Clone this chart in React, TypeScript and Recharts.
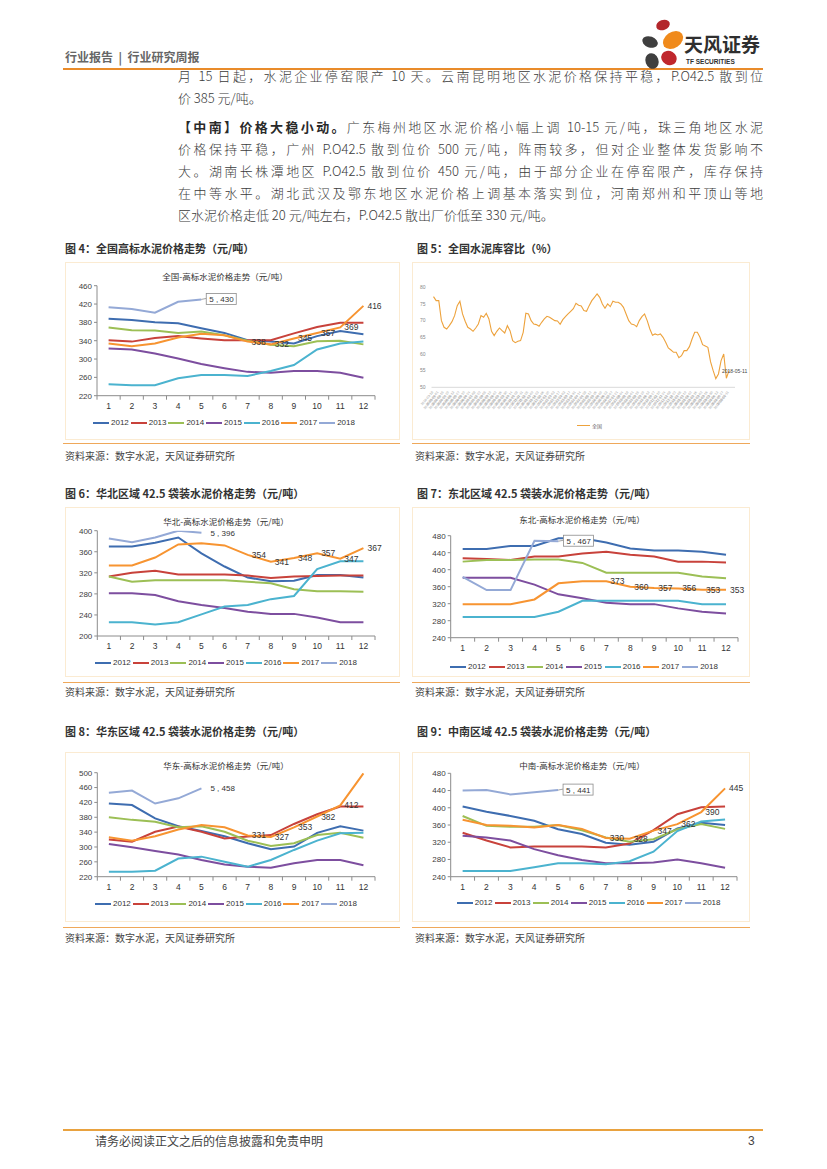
import React from "react";
import { LineChart, Line, XAxis, YAxis, LabelList } from "recharts";

const CJK = '"Noto Sans CJK SC", "Noto Sans", sans-serif';
const LATIN = '"Liberation Sans", Arial, "Noto Sans CJK SC", sans-serif';

const months = ["1", "2", "3", "4", "5", "6", "7", "8", "9", "10", "11", "12"];
const years = ["2012", "2013", "2014", "2015", "2016", "2017", "2018"];
const yearColors = ["#3E6DB0", "#C8423B", "#9CBF55", "#7D4E9F", "#4BB3CF", "#F79431", "#94A9D6"];

// 全国
const nat2012 = [388, 385, 380, 378, 367, 357, 341, 338, 334, 350, 361, 354];
const nat2013 = [341, 338, 346, 350, 345, 341, 341, 341, 356, 370, 379, 379];
const nat2014 = [369, 363, 362, 357, 360, 352, 340, 331, 328, 339, 340, 332];
const nat2015 = [323, 321, 312, 301, 289, 280, 272, 270, 274, 274, 270, 259];
const nat2016 = [245, 243, 243, 258, 265, 265, 263, 274, 287, 321, 334, 338];
const nat2017 = [334, 328, 334, 347, 355, 352, 338, 332, 345, 357, 369, 416];
const nat2018 = [413, 409, 401, 425, 430];
const natTicks = [220, 260, 300, 340, 380, 420, 460];

// 华北
const north2012 = [370, 370, 377, 387, 357, 332, 311, 304, 305, 316, 316, 311];
const north2013 = [313, 320, 324, 317, 317, 317, 315, 310, 313, 314, 315, 315];
const north2014 = [313, 303, 306, 306, 306, 306, 303, 300, 289, 285, 285, 284];
const north2015 = [281, 281, 278, 266, 259, 253, 246, 242, 242, 235, 226, 226];
const north2016 = [226, 226, 222, 226, 241, 256, 259, 270, 276, 327, 342, 342];
const north2017 = [334, 334, 349, 374, 376, 372, 354, 341, 348, 357, 347, 367];
const north2018 = [385, 378, 387, 400, 396];
const northTicks = [200, 240, 280, 320, 360, 400];

// 东北
const ne2012 = [449, 449, 456, 456, 474, 474, 464, 450, 445, 445, 442, 435];
const ne2013 = [427, 425, 423, 431, 431, 438, 442, 435, 431, 419, 419, 417];
const ne2014 = [419, 423, 423, 424, 424, 416, 393, 393, 393, 393, 384, 380];
const ne2015 = [381, 381, 381, 365, 342, 333, 322, 319, 319, 309, 301, 297];
const ne2016 = [289, 289, 289, 289, 301, 327, 327, 327, 327, 327, 319, 319];
const ne2017 = [319, 319, 319, 330, 368, 373, 373, 360, 357, 356, 353, 353];
const ne2018 = [383, 352, 352, 468, 467];
const neTicks = [240, 280, 320, 360, 400, 440, 480];

// 华东
const east2012 = [417, 413, 377, 356, 343, 329, 310, 294, 301, 338, 356, 344];
const east2013 = [320, 314, 341, 355, 341, 323, 328, 332, 362, 388, 409, 409];
const east2014 = [380, 373, 368, 353, 356, 341, 317, 303, 310, 332, 338, 325];
const east2015 = [308, 299, 289, 280, 265, 253, 247, 244, 256, 265, 265, 251];
const east2016 = [233, 233, 236, 269, 274, 260, 247, 265, 292, 317, 337, 338];
const east2017 = [326, 317, 329, 347, 359, 353, 331, 327, 353, 382, 412, 498];
const east2018 = [446, 452, 417, 431, 458];
const eastTicks = [220, 260, 300, 340, 380, 420, 460, 500];

// 中南
const cs2012 = [403, 391, 381, 370, 350, 339, 319, 314, 321, 352, 365, 360];
const cs2013 = [342, 324, 308, 310, 310, 310, 308, 317, 348, 385, 401, 403];
const cs2014 = [381, 358, 356, 356, 360, 348, 331, 321, 327, 350, 362, 351];
const cs2015 = [335, 331, 324, 304, 290, 279, 271, 271, 273, 280, 271, 261];
const cs2016 = [253, 253, 253, 262, 271, 271, 269, 276, 298, 346, 368, 373];
const cs2017 = [372, 360, 358, 354, 360, 351, 330, 328, 347, 362, 390, 445];
const cs2018 = [440, 441, 431, 436, 441];
const csTicks = [240, 280, 320, 360, 400, 440, 480];

// 全国水泥库容比（周）
const stockDates = [
  "2016-03-18", "2016-03-25", "2016-04-01", "2016-04-08", "2016-04-15", "2016-04-22", "2016-04-29",
  "2016-05-06", "2016-05-13", "2016-05-20", "2016-05-27", "2016-06-03", "2016-06-10", "2016-06-17",
  "2016-06-24", "2016-07-01", "2016-07-08", "2016-07-15", "2016-07-22", "2016-07-29", "2016-08-05",
  "2016-08-12", "2016-08-19", "2016-08-26", "2016-09-02", "2016-09-09", "2016-09-16", "2016-09-23",
  "2016-09-30", "2016-10-07", "2016-10-14", "2016-10-21", "2016-10-28", "2016-11-04", "2016-11-11",
  "2016-11-18", "2016-11-25", "2016-12-02", "2016-12-09", "2016-12-16", "2016-12-23", "2016-12-30",
  "2017-01-06", "2017-01-13", "2017-01-20", "2017-01-27", "2017-02-03", "2017-02-10", "2017-02-17",
  "2017-02-24", "2017-03-03", "2017-03-10", "2017-03-17", "2017-03-24", "2017-03-31", "2017-04-07",
  "2017-04-14", "2017-04-21", "2017-04-28", "2017-05-05", "2017-05-12", "2017-05-19", "2017-05-26",
  "2017-06-02", "2017-06-09", "2017-06-16", "2017-06-23", "2017-06-30", "2017-07-07", "2017-07-14",
  "2017-07-21", "2017-07-28", "2017-08-04", "2017-08-11", "2017-08-18", "2017-08-25", "2017-09-01",
  "2017-09-08", "2017-09-15", "2017-09-22", "2017-09-29", "2017-10-06", "2017-10-13", "2017-10-20",
  "2017-10-27", "2017-11-03", "2017-11-10", "2017-11-17", "2017-11-24", "2017-12-01", "2017-12-08",
  "2017-12-15", "2017-12-22", "2017-12-29", "2018-01-05", "2018-01-12", "2018-01-19", "2018-01-26",
  "2018-02-02", "2018-02-09", "2018-02-16", "2018-02-23", "2018-03-02", "2018-03-09", "2018-03-16",
  "2018-03-23", "2018-03-30", "2018-04-06", "2018-04-13", "2018-04-20", "2018-04-27", "2018-05-04",
  "2018-05-11",
];
const stockRatio = [
  77.2, 76.0, 76.0, 70.0, 68.0, 67.5, 68.5, 69.7, 71.5, 74.5, 75.8, 72.0, 69.8, 68.0, 67.5, 66.8,
  67.8, 69.0, 71.5, 71.0, 72.2, 70.5, 66.8, 65.5, 66.8, 67.8, 67.0, 66.3, 68.5, 67.0, 64.0, 63.4,
  63.8, 64.0, 66.5, 72.2, 72.0, 70.0, 69.0, 68.8, 68.3, 69.5, 70.5, 71.3, 71.0, 70.5, 70.0, 69.9,
  68.9, 70.3, 71.2, 72.0, 72.8, 73.6, 75.2, 74.6,
  74.4, 73.0, 72.8, 74.5, 76.0, 77.0, 78.0, 77.0, 75.0, 73.7, 75.0, 74.2, 75.8, 75.5, 75.5, 75.0,
  74.0, 72.0, 70.0, 69.0, 68.8, 68.2, 70.0, 71.2, 72.0, 70.0, 67.5, 65.6, 66.0, 65.7, 66.0, 65.0,
  63.5, 61.8, 61.2, 60.5, 60.5, 58.9, 59.5, 61.0, 61.0, 62.2, 64.5, 66.5, 66.5, 65.0, 62.8, 62.4,
  62.0, 57.7, 55.0, 52.6, 54.0, 58.0, 60.0, 52.7, 55.0,
];
const stockTicks = [50, 55, 60, 65, 70, 75, 80];

const buildRows = (series: number[][]) =>
  months.map((m, i) => {
    const row: any = { m };
    years.forEach((y, k) => {
      row[y] = series[k][i];
    });
    return row;
  });

const stockRows = stockDates.map((d, i) => ({ d, v: stockRatio[i] }));

const regionCharts = [
  {
    title: "全国-高标水泥价格走势（元/吨）",
    titleX: 225, titleY: 276,
    box: [65, 262, 335, 178], plot: [97, 375, 285.7, 395.7],
    ticks: natTicks,
    series: [nat2012, nat2013, nat2014, nat2015, nat2016, nat2017, nat2018],
    callout: "5 , 430", boxed: true, labels: [6, 11],
    legend: [93, 423, 37.7],
  },
  {
    title: "华北-高标水泥价格走势（元/吨）",
    titleX: 226, titleY: 521,
    box: [65, 507, 335, 170], plot: [97.3, 375, 530.7, 636],
    ticks: northTicks,
    series: [north2012, north2013, north2014, north2015, north2016, north2017, north2018],
    callout: "5 , 396", boxed: false, labels: [6, 11],
    legend: [95, 662.7, 37.7],
  },
  {
    title: "东北-高标水泥价格走势（元/吨）",
    titleX: 582, titleY: 519,
    box: [412, 507, 338, 170], plot: [450.7, 738, 535.7, 637.7],
    ticks: neTicks,
    series: [ne2012, ne2013, ne2014, ne2015, ne2016, ne2017, ne2018],
    callout: "5 , 467", boxed: true, labels: [6, 11],
    legend: [450, 666.7, 38.7],
  },
  {
    title: "华东-高标水泥价格走势（元/吨）",
    titleX: 226, titleY: 765,
    box: [65, 752, 335, 170], plot: [97.3, 375, 772.7, 876.7],
    ticks: eastTicks,
    series: [east2012, east2013, east2014, east2015, east2016, east2017, east2018],
    callout: "5 , 458", boxed: false, labels: [6, 10],
    legend: [95, 904, 37.7],
  },
  {
    title: "中南-高标水泥价格走势（元/吨）",
    titleX: 582, titleY: 765,
    box: [412, 752, 338, 170], plot: [450.7, 737, 773.3, 876.7],
    ticks: csTicks,
    series: [cs2012, cs2013, cs2014, cs2015, cs2016, cs2017, cs2018],
    callout: "5 , 441", boxed: true, labels: [6, 11],
    legend: [456.7, 903.3, 38],
  },
];

const figures = [
  { x: 65, y: 248, text: "图 4：全国高标水泥价格走势（元/吨）" },
  { x: 417, y: 248, text: "图 5：全国水泥库容比（%）" },
  { x: 65, y: 493, text: "图 6：华北区域 42.5 袋装水泥价格走势（元/吨）" },
  { x: 417, y: 493, text: "图 7：东北区域 42.5 袋装水泥价格走势（元/吨）" },
  { x: 65, y: 731, text: "图 8：华东区域 42.5 袋装水泥价格走势（元/吨）" },
  { x: 417, y: 731, text: "图 9：中南区域 42.5 袋装水泥价格走势（元/吨）" },
];
const sourceRows = [456, 692, 938];
const sourceLines = [443, 682, 927];

function XTick(props: any) {
  const { x, y, payload, half, index, visibleTicksCount } = props;
  return (
    <g>
      <line x1={x - half} x2={x - half} y1={y} y2={y + 4} stroke="#8c8c8c" />
      {index === visibleTicksCount - 1 && (
        <line x1={x + half} x2={x + half} y1={y} y2={y + 4} stroke="#8c8c8c" />
      )}
      <text x={x} y={y + 13} textAnchor="middle" fontSize={8.5} fill="#333" fontFamily={LATIN}>
        {payload.value}
      </text>
    </g>
  );
}

function DateTick(props: any) {
  const { x, y, payload, index } = props;
  // every other label sits a little lower, like the two staggered rows in the source
  const dy = index % 2 === 0 ? 5 : 9;
  return (
    <text
      x={x}
      y={y + dy}
      transform={`rotate(-50 ${x} ${y + dy})`}
      textAnchor="end"
      fontSize={3.4}
      fill="#a0a0a0"
      fontFamily={LATIN}
    >
      {payload.value}
    </text>
  );
}

const valueLabel = (from: number, to: number) => (p: any) => {
  if (p.index < from || p.index > to || p.value == null) return null;
  return (
    <text x={p.x + 4} y={p.y + 3} fontSize={8.5} fill="#333" fontFamily={LATIN}>
      {p.value}
    </text>
  );
};

const calloutLabel = (text: string, boxed: boolean) => (p: any) => {
  if (p.index !== 4) return null;
  const x0 = p.x + (boxed ? 5 : 6);
  return (
    <g>
      {boxed && (
        <>
          <line x1={p.x} y1={p.y} x2={x0} y2={p.y - 1} stroke="#8c8c8c" strokeWidth={0.8} />
          <rect x={x0} y={p.y - 6} width={30} height={11} fill="#fff" stroke="#8c8c8c" strokeWidth={0.8} />
        </>
      )}
      <text x={x0 + 3} y={p.y + 2.8} fontSize={8} fill="#333" fontFamily={LATIN}>
        {text}
      </text>
    </g>
  );
};

function YearLegend({ x, y, step }: any) {
  return (
    <div style={{ position: "absolute", left: x, top: y - 6, height: 12, display: "flex" }}>
      {years.map((yr, i) => (
        <div key={yr} style={{ width: step, display: "flex", alignItems: "center" }}>
          <div style={{ width: 16, height: 2, background: yearColors[i] }} />
          <span style={{ marginLeft: 2, fontSize: 8, color: "#333", fontFamily: LATIN, lineHeight: "12px" }}>
            {yr}
          </span>
        </div>
      ))}
    </div>
  );
}

function RegionChart({ cfg }: any) {
  const [left, top, width, height] = cfg.box;
  const [pl, pr, pt, pb] = cfg.plot;
  const half = (pr - pl) / 24;
  const rows = buildRows(cfg.series);
  const ticks = cfg.ticks;
  return (
    <>
      <div
        style={{
          position: "absolute", left, top, width, height,
          border: "1px solid #FBEBD2", boxSizing: "border-box",
        }}
      />
      <div
        style={{
          position: "absolute", left: cfg.titleX - 80, top: cfg.titleY - 7, width: 160,
          textAlign: "center", fontSize: 8.5, color: "#333", fontFamily: CJK, lineHeight: "14px",
        }}
      >
        {cfg.title}
      </div>
      <div style={{ position: "absolute", left, top }}>
        <LineChart
          width={width}
          height={height}
          data={rows}
          margin={{ top: pt - top, right: left + width - pr, left: pl - left - 30, bottom: 0 }}
        >
          <XAxis
            dataKey="m"
            height={top + height - pb}
            padding={{ left: half, right: half }}
            interval={0}
            tickSize={0}
            tickMargin={0}
            tickLine={false}
            axisLine={{ stroke: "#8c8c8c" }}
            tick={<XTick half={half} />}
          />
          <YAxis
            width={30}
            domain={[ticks[0], ticks[ticks.length - 1]]}
            ticks={ticks}
            allowDataOverflow
            tickSize={3}
            tickMargin={2}
            axisLine={{ stroke: "#8c8c8c" }}
            tickLine={{ stroke: "#8c8c8c" }}
            tick={{ fontSize: 8, fill: "#404040", fontFamily: LATIN }}
          />
          {years.map((yr, k) => (
            <Line
              key={yr}
              dataKey={yr}
              stroke={yearColors[k]}
              strokeWidth={2}
              dot={false}
              isAnimationActive={false}
            >
              {yr === "2017" && <LabelList dataKey={yr} content={valueLabel(cfg.labels[0], cfg.labels[1])} />}
              {yr === "2018" && <LabelList dataKey={yr} content={calloutLabel(cfg.callout, cfg.boxed)} />}
            </Line>
          ))}
        </LineChart>
      </div>
      <YearLegend x={cfg.legend[0]} y={cfg.legend[1]} step={cfg.legend[2]} />
    </>
  );
}

function StockChart() {
  const last = stockRows.length - 1;
  return (
    <>
      <div
        style={{
          position: "absolute", left: 412, top: 262, width: 338, height: 178,
          border: "1px solid #FBEBD2", boxSizing: "border-box",
        }}
      />
      <div style={{ position: "absolute", left: 412, top: 262 }}>
        <LineChart
          width={338}
          height={178}
          data={stockRows}
          margin={{ top: 25.3, right: 15, left: 3.5, bottom: 0 }}
        >
          <XAxis
            dataKey="d"
            height={52.7}
            padding={{ left: 2, right: 6 }}
            interval={0}
            tickSize={0}
            tickMargin={0}
            tickLine={false}
            axisLine={{ stroke: "#d9d9d9" }}
            tick={<DateTick />}
          />
          <YAxis
            width={16}
            domain={[50, 80]}
            ticks={stockTicks}
            axisLine={false}
            tickLine={false}
            tickSize={0}
            tickMargin={6}
            tick={{ fontSize: 5, fill: "#888", fontFamily: LATIN }}
          />
          <Line dataKey="v" stroke="#EDA23C" strokeWidth={1.1} dot={false} isAnimationActive={false}>
            <LabelList
              dataKey="d"
              content={(p: any) =>
                p.index === last ? (
                  <text x={p.x - 7} y={p.y + 2} fontSize={5} fill="#444" fontFamily={LATIN}>
                    {p.value}
                  </text>
                ) : null
              }
            />
          </Line>
        </LineChart>
      </div>
      <div style={{ position: "absolute", left: 577, top: 420, display: "flex", alignItems: "center", height: 11 }}>
        <div style={{ width: 13, height: 1.5, background: "#EDA23C" }} />
        <span style={{ marginLeft: 2, fontSize: 5, color: "#666", fontFamily: CJK }}>全国</span>
      </div>
    </>
  );
}

function Logo() {
  return (
    <svg style={{ position: "absolute", left: 636, top: 16 }} width={135} height={56}>
      <ellipse cx={27} cy={9} rx={7} ry={5} fill="#B3262B" transform="rotate(-20 27 9)" />
      <ellipse cx={37} cy={24} rx={11} ry={8} fill="#F08A1C" transform="rotate(-35 37 24)" />
      <ellipse cx={14} cy={26} rx={8} ry={5.5} fill="#3F3F3F" transform="rotate(20 14 26)" />
      <ellipse cx={33} cy={42} rx={8} ry={7} fill="#C0272D" transform="rotate(30 33 42)" />
      <ellipse cx={16} cy={45} rx={6.5} ry={8} fill="#3F3F3F" transform="rotate(-20 16 45)" />
      <text x={48} y={36} fontSize={19} fontWeight={700} fill="#2f2f2f" fontFamily={CJK}>
        天风证券
      </text>
      <text x={50} y={48} fontSize={6.5} fontWeight={700} fill="#2f2f2f" fontFamily={LATIN}>
        TF SECURITIES
      </text>
    </svg>
  );
}

const textLine = (top: number, justify: boolean, children: any) => (
  <div
    style={{
      position: "absolute", left: 178, top, width: 585, fontSize: 13, lineHeight: "22px",
      color: "#3b3b3b", fontFamily: CJK, fontWeight: 300, textAlign: "justify",
      textAlignLast: justify ? "justify" : "left", whiteSpace: "nowrap",
    }}
  >
    {children}
  </div>
);

export default function App() {
  return (
    <div
      style={{
        position: "absolute", left: 0, top: 0, width: 827, height: 1169,
        background: "#fff", overflow: "hidden", fontFamily: CJK,
      }}
    >
      <div style={{ position: "absolute", left: 65, top: 49, fontSize: 12, fontWeight: 700, color: "#666", lineHeight: "16px", whiteSpace: "pre" }}>
        {"行业报告  |  行业研究周报"}
      </div>
      <div style={{ position: "absolute", left: 63, top: 68, width: 700, height: 2, background: "#E98B2A" }} />
      <Logo />

      {textLine(65, true, "月 15 日起，水泥企业停窑限产 10 天。云南昆明地区水泥价格保持平稳，P.O42.5 散到位")}
      {textLine(87, false, "价 385 元/吨。")}
      {textLine(116, true, (
        <>
          <b style={{ color: "#2a2a2a", fontWeight: 700 }}>【中南】价格大稳小动。</b>
          广东梅州地区水泥价格小幅上调 10-15 元/吨，珠三角地区水泥
        </>
      ))}
      {textLine(138, true, "价格保持平稳，广州 P.O42.5 散到位价 500 元/吨，阵雨较多，但对企业整体发货影响不")}
      {textLine(160, true, "大。湖南长株潭地区 P.O42.5 散到位价 450 元/吨，由于部分企业在停窑限产，库存保持")}
      {textLine(182, true, "在中等水平。湖北武汉及鄂东地区水泥价格上调基本落实到位，河南郑州和平顶山等地")}
      {textLine(204, false, "区水泥价格走低 20 元/吨左右，P.O42.5 散出厂价低至 330 元/吨。")}

      {figures.map((f) => (
        <div
          key={f.text}
          style={{ position: "absolute", left: f.x, top: f.y - 8, fontSize: 11, fontWeight: 700, color: "#333", lineHeight: "16px" }}
        >
          {f.text}
        </div>
      ))}

      {regionCharts.map((cfg) => (
        <RegionChart key={cfg.title} cfg={cfg} />
      ))}
      <StockChart />

      {sourceLines.map((y) => (
        <React.Fragment key={y}>
          <div style={{ position: "absolute", left: 63, top: y, width: 337, height: 1, background: "#EFA85A" }} />
          <div style={{ position: "absolute", left: 412, top: y, width: 338, height: 1, background: "#EFA85A" }} />
        </React.Fragment>
      ))}
      {sourceRows.map((y) => (
        <React.Fragment key={y}>
          <div style={{ position: "absolute", left: 65, top: y - 7, fontSize: 10, color: "#444", lineHeight: "14px" }}>
            资料来源：数字水泥，天风证券研究所
          </div>
          <div style={{ position: "absolute", left: 415, top: y - 7, fontSize: 10, color: "#444", lineHeight: "14px" }}>
            资料来源：数字水泥，天风证券研究所
          </div>
        </React.Fragment>
      ))}

      <div style={{ position: "absolute", left: 63, top: 1129, width: 700, height: 2, background: "#E9A23F" }} />
      <div style={{ position: "absolute", left: 95, top: 1133, fontSize: 12, color: "#444", lineHeight: "16px" }}>
        请务必阅读正文之后的信息披露和免责申明
      </div>
      <div style={{ position: "absolute", left: 748, top: 1133, fontSize: 12, color: "#444", lineHeight: "16px", fontFamily: LATIN }}>
        3
      </div>
    </div>
  );
}
